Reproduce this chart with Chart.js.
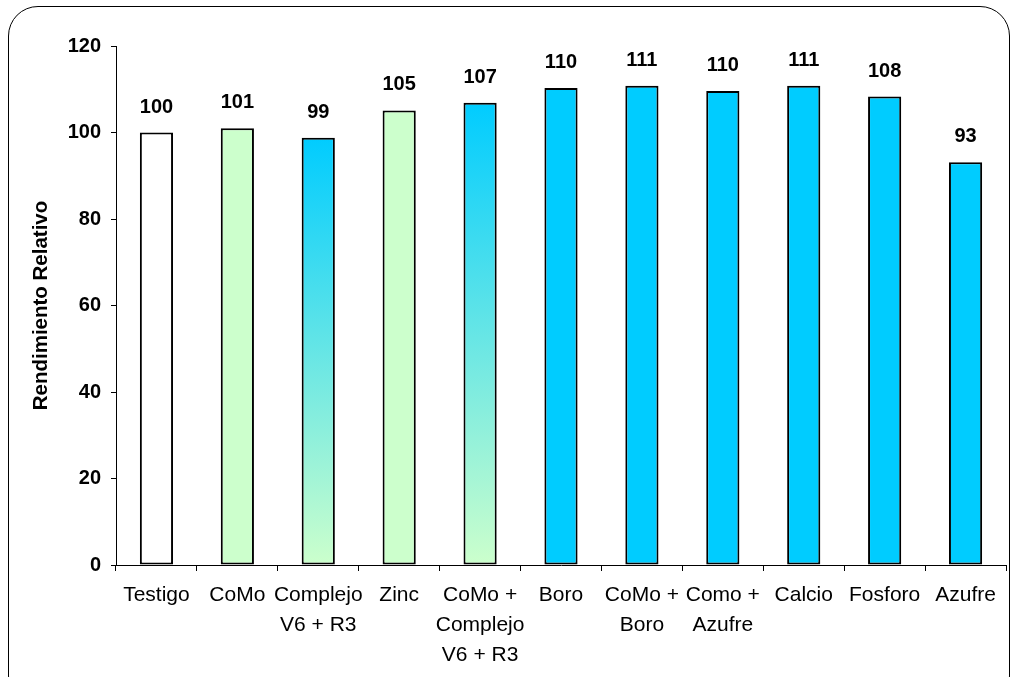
<!DOCTYPE html>
<html>
<head>
<meta charset="utf-8">
<script src="https://cdn.jsdelivr.net/npm/chart.js@4.4.1/dist/chart.umd.min.js"></script>
<style>
  html, body { margin: 0; padding: 0; background: #fff; overflow: hidden; }
  #wrap { position: relative; width: 1012px; height: 677px; }
  #frame {
    position: absolute; left: 8px; top: 6px; width: 1002px; height: 700px;
    border: 1px solid #000; border-radius: 30px; box-sizing: border-box;
  }
  canvas { position: absolute; left: 0; top: 0; }
</style>
</head>
<body>
<div id="wrap">
  <div id="frame"></div>
  <canvas id="grafico" width="1012" height="677"></canvas>
</div>
<script>
const categorias = [
  "Testigo", "CoMo", ["Complejo", "V6 + R3"], "Zinc", ["CoMo +", "Complejo", "V6 + R3"],
  "Boro", ["CoMo +", "Boro"], ["Como +", "Azufre"], "Calcio", "Fosforo", "Azufre"
];
const rendimiento = [100, 101, 98.8, 105.1, 106.9, 110.3, 110.8, 109.6, 110.8, 108.3, 93.1];
const tipoRelleno = ["blanco", "verde", "degradado", "verde", "degradado",
  "celeste", "celeste", "celeste", "celeste", "celeste", "celeste"];
const ticksY = [0, 20, 40, 60, 80, 100, 120];

Chart.defaults.font.family = "'Liberation Sans', Arial, sans-serif";
Chart.defaults.color = "#000";

const colores = { blanco: "#ffffff", verde: "#ccffcc", celeste: "#00ccff" };

function relleno(context) {
  const tipo = tipoRelleno[context.dataIndex];
  if (tipo !== "degradado") return colores[tipo];
  const chart = context.chart;
  if (!chart.chartArea) return colores.celeste;
  const y = chart.scales.y;
  const arriba = y.getPixelForValue(context.raw);
  const abajo = y.getPixelForValue(0);
  const g = chart.ctx.createLinearGradient(0, arriba, 0, abajo);
  g.addColorStop(0, "#00ccff");
  g.addColorStop(1, "#ccffcc");
  return g;
}

const etiquetas = {
  id: "etiquetas",
  afterDatasetsDraw(chart) {
    const c = chart.ctx;
    const meta = chart.getDatasetMeta(0);
    c.save();
    c.font = "bold 20px 'Liberation Sans', Arial, sans-serif";
    c.fillStyle = "#000";
    c.textAlign = "center";
    c.textBaseline = "alphabetic";
    meta.data.forEach((bar, i) => {
      c.fillText(String(Math.round(rendimiento[i])), bar.x, bar.y - 20);
    });
    c.restore();
  }
};

new Chart(document.getElementById("grafico"), {
  type: "bar",
  data: {
    labels: categorias,
    datasets: [{
      data: rendimiento,
      backgroundColor: relleno,
      borderColor: "#000",
      borderWidth: 2,
      borderSkipped: false,
      barPercentage: 0.41,
      categoryPercentage: 1
    }]
  },
  options: {
    responsive: false,
    animation: false,
    devicePixelRatio: 1,
    layout: { padding: { left: 0, right: 6, top: 46, bottom: 0 } },
    plugins: { legend: { display: false }, tooltip: { enabled: false } },
    scales: {
      x: {
        afterFit(scale) { scale.height = 112; },
        grid: { drawOnChartArea: false, tickLength: 6, color: "#000", offset: true },
        border: { color: "#000", width: 1 },
        ticks: {
          autoSkip: false, maxRotation: 0, padding: 9,
          font: { size: 21, lineHeight: 1.43 }, color: "#000"
        }
      },
      y: {
        min: 0, max: 120,
        afterFit(scale) { scale.width = 116; },
        afterBuildTicks(scale) { scale.ticks = ticksY.map(v => ({ value: v })); },
        grid: { drawOnChartArea: false, tickLength: 5, color: "#000" },
        border: { color: "#000", width: 1 },
        ticks: { padding: 10, font: { size: 20, weight: "bold" }, color: "#000" },
        title: {
          display: true, text: "Rendimiento Relativo", color: "#000",
          font: { size: 20.5, weight: "bold" }, padding: { top: 29, bottom: 0 }
        }
      }
    }
  },
  plugins: [etiquetas]
});
</script>
</body>
</html>
